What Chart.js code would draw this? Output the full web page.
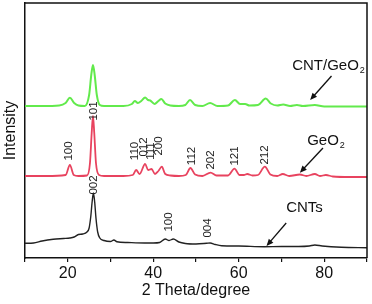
<!DOCTYPE html>
<html>
<head>
<meta charset="utf-8">
<script src="https://cdn.jsdelivr.net/npm/chart.js@4.4.1/dist/chart.umd.min.js"></script>
<style>
  html, body { margin: 0; padding: 0; background: #fff; }
</style>
</head>
<body>
<canvas id="xrd" width="372" height="304"></canvas>
<script>
// 2theta (degree) / intensity (a.u.), curves already offset
const cntGeoTheta = [10, 14, 18, 19.5, 20.5, 21.5, 22.5, 24, 25, 25.5, 25.9, 26.3, 26.8, 27.5, 28.5, 30, 33, 35, 35.7, 36.4, 37.2, 38.1, 38.8, 39.3, 40.3, 41.2, 41.9, 42.8, 44, 46, 47.5, 48.6, 49.8, 51.5, 53.3, 55, 57.5, 59.1, 60.3, 61.5, 62.5, 64.5, 66.3, 67.5, 69, 70.4, 72, 73.6, 75, 77.8, 80, 84, 90];
const cntGeoInt = [152, 152, 152.5, 155, 160.3, 155, 152.5, 152, 163, 183, 193, 183, 163, 153, 152, 152, 152, 154, 157, 155, 157, 160.5, 158, 157.5, 154, 157, 159, 154.5, 152.5, 152, 153, 158, 153, 152, 155, 152, 152.5, 158, 154, 154, 152.5, 153, 159.5, 154.5, 152.5, 153.5, 152, 153, 152, 153, 151.5, 151.5, 151.5];

const geoTheta = [10, 15, 19.5, 20.5, 21.4, 22.5, 24.5, 25.2, 25.6, 25.9, 26.2, 26.6, 27.3, 28.5, 33, 35.2, 36, 36.8, 38.1, 38.8, 39.6, 40.4, 41.2, 42, 42.8, 44, 46, 47.6, 48.7, 49.8, 51.5, 53.4, 54.8, 57.5, 59, 60.2, 61.2, 62, 63.2, 64.5, 66.1, 67.4, 69, 70.3, 71.8, 74.3, 75.8, 77.8, 79, 80.4, 82, 86, 90];
const geoInt = [82, 82, 83, 93, 83, 82, 82.5, 95, 125, 142, 125, 95, 83, 82, 82, 83, 88, 84, 94, 88, 89, 84, 87, 91.3, 84, 82.5, 82, 83, 90, 83.5, 82, 85.3, 82.5, 82.5, 89.3, 83, 83, 84, 82.5, 83, 91.3, 83.5, 82, 84, 82, 83.5, 82, 84, 82, 83, 81.5, 81, 81];

const cntTheta = [10, 12, 14, 16.6, 19, 20.5, 21.5, 22.5, 23.5, 24.5, 25, 25.4, 25.7, 26, 26.3, 26.6, 27, 27.5, 28.5, 30, 30.8, 31.5, 34, 38, 40, 41.5, 42.8, 43.7, 44.7, 46, 47.5, 50, 52.5, 53.3, 54.5, 56, 60, 66, 70, 74, 76.5, 77.8, 79.5, 84, 90];
const cntInt = [14.7, 15, 17, 18.7, 19.5, 20, 21, 23.5, 24, 26, 30, 42, 56, 65, 56, 40, 26, 20, 17.5, 16.5, 18, 16.3, 15.5, 15, 15, 15.5, 19, 17.5, 19, 16, 14.5, 14, 14.7, 15, 13.5, 12.3, 12, 11.3, 11.5, 11.5, 12, 13, 12, 10.7, 10.3];

const xTicks = [20, 40, 60, 80];

// peak indices: [label, 2theta, intensity at label centre]
const geoPeaks = [["100", 20.2, 107], ["101", 26.1, 147], ["110", 35.7, 107], ["012", 37.7, 111], ["111", 39.5, 107], ["200", 41.3, 112], ["112", 49.1, 102], ["202", 53.5, 98], ["121", 59.1, 102], ["212", 66.1, 103]];
const cntPeaks = [["002", 26, 73], ["100", 43.7, 36], ["004", 52.8, 30]];

// sample names: [text, subscript, 2theta, intensity (baseline), arrow from, arrow to]
const sampleLabels = [
  ["CNT/GeO", "2", 72.5, 188, [81.7, 182], [76.7, 158]],
  ["GeO", "2", 76, 113, [79.7, 110], [74.3, 85.3]],
  ["CNTs", "", 71.1, 46, [71.1, 35], [66.5, 12]],
];

const FONT = "'Liberation Sans', Arial, sans-serif";

const pares = (xs, ys) => xs.map((x, i) => ({ x: x, y: ys[i] }));

const marcoPlugin = {
  id: "marco",
  afterDraw(chart) {
    const { ctx, chartArea: a } = chart;
    ctx.save();
    ctx.strokeStyle = "#111";
    ctx.lineWidth = 1.5;
    ctx.beginPath();
    ctx.moveTo(a.left, a.top);
    ctx.lineTo(a.right, a.top);
    ctx.lineTo(a.right, a.bottom);
    ctx.stroke();
    ctx.restore();
  },
};

function flecha(ctx, x1, y1, x2, y2) {
  const ang = Math.atan2(y2 - y1, x2 - x1);
  ctx.beginPath();
  ctx.moveTo(x1, y1);
  ctx.lineTo(x2 - 5 * Math.cos(ang), y2 - 5 * Math.sin(ang));
  ctx.stroke();
  ctx.beginPath();
  ctx.moveTo(x2, y2);
  ctx.lineTo(x2 - 7 * Math.cos(ang) + 3 * Math.sin(ang), y2 - 7 * Math.sin(ang) - 3 * Math.cos(ang));
  ctx.lineTo(x2 - 7 * Math.cos(ang) - 3 * Math.sin(ang), y2 - 7 * Math.sin(ang) + 3 * Math.cos(ang));
  ctx.closePath();
  ctx.fill();
}

const etiquetasPlugin = {
  id: "etiquetas",
  afterDatasetsDraw(chart) {
    const { ctx } = chart;
    const sx = chart.scales.x;
    const sy = chart.scales.y;
    ctx.save();
    ctx.fillStyle = "#222";
    ctx.font = "11.5px " + FONT;
    ctx.textAlign = "center";
    ctx.textBaseline = "middle";
    [...geoPeaks, ...cntPeaks].forEach(([txt, t, v]) => {
      ctx.save();
      ctx.translate(sx.getPixelForValue(t), sy.getPixelForValue(v));
      ctx.rotate(-Math.PI / 2);
      ctx.fillText(txt, 0, 0);
      ctx.restore();
    });

    ctx.strokeStyle = "#111";
    ctx.fillStyle = "#111";
    ctx.lineWidth = 1.3;
    ctx.textAlign = "left";
    ctx.textBaseline = "alphabetic";
    sampleLabels.forEach(([txt, sub, t, v, desde, hasta]) => {
      const x = sx.getPixelForValue(t);
      const y = sy.getPixelForValue(v);
      ctx.font = "15px " + FONT;
      ctx.fillText(txt, x, y);
      if (sub) {
        const w = ctx.measureText(txt).width;
        ctx.font = "9px " + FONT;
        ctx.fillText(sub, x + w + 1, y + 3);
      }
      flecha(
        ctx,
        sx.getPixelForValue(desde[0]), sy.getPixelForValue(desde[1]),
        sx.getPixelForValue(hasta[0]), sy.getPixelForValue(hasta[1])
      );
    });
    ctx.restore();
  },
};

function pintarXrd() {
  const ctx = document.getElementById("xrd");

  const serie = (data, color, ancho) => ({
    data: data,
    borderColor: color,
    borderWidth: ancho,
    pointRadius: 0,
    cubicInterpolationMode: "monotone",
    fill: false,
  });

  const cfg = {
    type: "line",
    data: {
      datasets: [
        serie(pares(cntGeoTheta, cntGeoInt), "#62ea4c", 2),
        serie(pares(geoTheta, geoInt), "#e8435f", 1.8),
        serie(pares(cntTheta, cntInt), "#222222", 1.4),
      ],
    },
    options: {
      responsive: false,
      animation: false,
      layout: { padding: { top: 3, right: 5, left: 0, bottom: 0 } },
      plugins: {
        legend: { display: false },
        tooltip: { enabled: false },
      },
      scales: {
        x: {
          type: "linear",
          min: 10,
          max: 90,
          afterFit: (s) => { s.height = 46; },
          afterBuildTicks: (s) => {
            s.ticks = [10, 20, 30, 40, 50, 60, 70, 80, 90].map((v) => ({ value: v }));
          },
          ticks: {
            autoSkip: false,
            maxRotation: 0,
            padding: 2,
            color: "#111",
            font: { family: FONT, size: 16 },
            callback: (v) => (xTicks.includes(v) ? String(v) : ""),
          },
          grid: {
            drawOnChartArea: false,
            drawTicks: true,
            tickLength: 4,
            color: "#111",
            lineWidth: 1.2,
          },
          border: { color: "#111", width: 1.5 },
          title: {
            display: true,
            text: "2 Theta/degree",
            color: "#111",
            font: { family: FONT, size: 16 },
            padding: { top: 0, bottom: 4 },
          },
        },
        y: {
          min: 0,
          max: 255,
          afterFit: (s) => { s.width = 25; },
          ticks: { display: false },
          grid: { display: false },
          border: { color: "#111", width: 1.5 },
          title: {
            display: true,
            text: "Intensity",
            color: "#111",
            font: { family: FONT, size: 16 },
            padding: { top: 1, bottom: 0 },
          },
        },
      },
    },
    plugins: [marcoPlugin, etiquetasPlugin],
  };

  new Chart(ctx, cfg);
}

pintarXrd();
</script>
</body>
</html>
